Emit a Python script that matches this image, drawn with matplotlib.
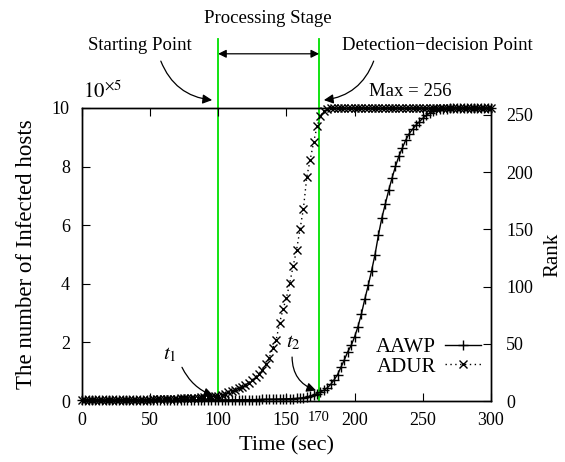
import numpy as np
import matplotlib
matplotlib.use("Agg")
import matplotlib.pyplot as plt

plt.rcParams['font.family'] = ['Liberation Serif', 'DejaVu Serif']
plt.rcParams['mathtext.fontset'] = 'stix'

# ---- data (time in seconds, rank 0..256) ----
time = [i * 2.5 for i in range(121)]

adur = ([1.2] * 20 +                                   # t = 0 .. 47.5
        [1.3, 1.4, 1.5, 1.6, 1.7, 1.8, 1.9, 2.0, 2.1, 2.2,
         2.3, 2.4, 2.6, 2.8, 3.0, 3.2, 3.4, 3.6, 3.8, 4.0] +   # t = 50 .. 97.5
        [4.4, 5.2, 6.5, 7.8, 9.0, 10.0, 11.0, 12.5, 14.0, 16.0,
         18.5, 21.0, 24.0, 27.5, 32.0, 38.0, 46.0, 53.0, 68.0, 80.0,
         90.0, 103.0, 118.0, 132.0, 150.0, 168.0, 196.0, 211.0, 226.0, 240.0,
         249.0, 253.0, 255.0] +                        # t = 100 .. 180
        [256.0] * 48)                                  # t = 182.5 .. 300

aawp = ([0.8] * 40 +                                   # t = 0 .. 97.5
        [0.9, 0.9, 1.0, 1.0, 1.0, 1.1, 1.1, 1.1, 1.2, 1.2, 1.2, 1.3, 1.3, 1.4, 1.4, 1.5,
         1.5, 1.6, 1.7, 1.8, 1.9, 2.0, 2.1, 2.2] +     # t = 100 .. 157.5
        [2.5, 2.9, 3.5, 4.3, 5.3, 6.5, 7.8, 9.5, 11.5, 14.5,
         18.5, 23.0, 29.5, 36.0, 43.0, 48.5, 56.0, 65.0, 76.0, 89.0,
         101.0, 114.0, 128.0, 145.0, 160.0, 172.0, 184.0, 195.0, 205.0, 214.0,
         221.0, 228.0, 233.5, 237.5, 241.0, 244.0, 247.0, 249.5, 251.5, 253.0,
         254.0, 254.7, 255.2, 255.5, 255.8] +          # t = 160 .. 270
        [256.0] * 12)                                  # t = 272.5 .. 300

x_ticks = [0, 50, 100, 150, 200, 250, 300]
left_ticks = [0, 2, 4, 6, 8, 10]
right_ticks = [0, 50, 100, 150, 200, 250]
start_t = 100
detect_t = 174
detect_label = "170"

# ---- figure ----
W, H = 565, 462
fig = plt.figure(figsize=(W / 100, H / 100), dpi=100)
ax = fig.add_axes([81.7 / W, 61 / H, 409.3 / W, 293 / H])
ax2 = ax.twinx()

FS = 13
ax.set_xlim(0, 300)
ax.set_ylim(0, 10)
ax2.set_ylim(0, 256)
ax.set_xticks(x_ticks)
ax.set_yticks(left_ticks)
ax2.set_yticks(right_ticks)
ax.tick_params(axis='x', direction='in', top=True, length=6, labelsize=FS, pad=8)
ax.tick_params(axis='y', direction='in', right=False, length=6, labelsize=FS, pad=8.5)
ax2.tick_params(axis='y', direction='in', length=6, labelsize=FS, pad=11)
for a in (ax, ax2):
    for s in a.spines.values():
        s.set_linewidth(1.0)

ax.set_xlabel("Time (sec)", fontsize=16, labelpad=5)
ax.set_ylabel("The number of Infected hosts", fontsize=16.5, labelpad=11)
ax2.set_ylabel("Rank", fontsize=15, labelpad=7)

# green vertical lines extending above the axes
for xv in (start_t, detect_t):
    ax.plot([xv, xv], [0, 12.35], color='#00e000', lw=1.3, clip_on=False, zorder=1)

# curves
l1, = ax2.plot(time, aawp, color='black', lw=1.0, marker='+', ms=7, mew=1.0, clip_on=False, zorder=3)
l2, = ax2.plot(time, adur, color='black', lw=1.0, ls=(0, (1, 2.5)), marker='x', ms=5.5, mew=1.0,
               clip_on=False, zorder=3)

# tick-like "170" label
ax.text(detect_t, -0.35, detect_label, fontsize=10.5, ha='center', va='top')

# top texts
TA = 13.5
ax.text(0.8, 10.55, r'$10^{\times 5}$', fontsize=15, ha='left', va='center')
ax.text(241, 10.55, "Max = 256", fontsize=13.5, ha='center', va='center')
ax.text(136.6, 13.05, "Processing Stage", fontsize=TA, ha='center', va='center', clip_on=False)
ax.text(43, 12.12, "Starting Point", fontsize=TA, ha='center', va='center', clip_on=False)
ax.text(261, 12.12, "Detection\u2212decision Point", fontsize=TA, ha='center', va='center', clip_on=False)

ap = dict(arrowstyle='-|>', color='black', lw=0.9, mutation_scale=14, shrinkA=0, shrinkB=0)
ax.annotate("", xy=(start_t, 11.85), xytext=(detect_t, 11.85),
            arrowprops=dict(arrowstyle='<|-|>', color='black', lw=0.9, mutation_scale=12,
                            shrinkA=0, shrinkB=0), annotation_clip=False)
ax.annotate("", xy=(95.6, 10.27), xytext=(58, 11.6),
            arrowprops=dict(connectionstyle='arc3,rad=0.3', **ap), annotation_clip=False)
ax.annotate("", xy=(177.5, 10.27), xytext=(214, 11.6),
            arrowprops=dict(connectionstyle='arc3,rad=-0.3', **ap), annotation_clip=False)

# t1, t2
ax.text(64.5, 1.57, r'$t_1$', fontsize=15, ha='center', va='center')
ax.annotate("", xy=(96.5, 0.18), xytext=(73.5, 1.15),
            arrowprops=dict(connectionstyle='arc3,rad=0.2', **ap))
ax.text(155, 1.98, r'$t_2$', fontsize=15, ha='center', va='center')
ax.annotate("", xy=(171.8, 0.36), xytext=(154.2, 1.5),
            arrowprops=dict(connectionstyle='arc3,rad=0.35', **ap))

# legend
leg = ax2.legend([l1, l2], ["AAWP", "ADUR"], loc='center right',
                 bbox_to_anchor=(0.975, 0.15), frameon=False, markerfirst=False,
                 fontsize=15, handlelength=1.7, handletextpad=0.45, labelspacing=0.0,
                 borderpad=0, borderaxespad=0)

fig.savefig("out.png", dpi=100)
